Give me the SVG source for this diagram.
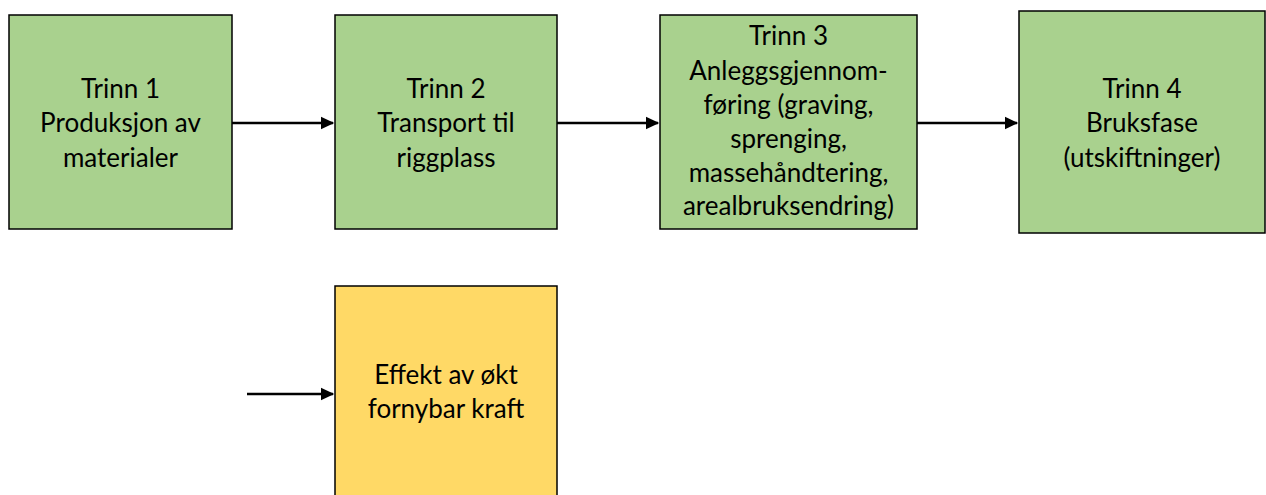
<svg xmlns="http://www.w3.org/2000/svg" width="1266" height="495" viewBox="0 0 1266 495">
<defs>
<style>
.g{fill:#A9D18E;stroke:#000;stroke-width:1.5}
.y{fill:#FFD966;stroke:#000;stroke-width:1.5}
text{font-family:Lato,"Open Sans",sans-serif;font-size:26px;fill:#000;text-anchor:middle}
.c{stroke:#000;stroke-width:2.5;fill:none;marker-end:url(#ah)}
</style>
<marker id="ah" markerWidth="6" markerHeight="6" refX="5" refY="3" orient="auto" markerUnits="strokeWidth"><path d="M0,0.4 L5.5,3 L0,5.6 Z" fill="#000"/></marker>
</defs>
<rect width="1266" height="495" fill="#fff"/>
<g id="connectors">
<line class="c" x1="232" y1="123" x2="333" y2="123"/>
<line class="c" x1="557" y1="123" x2="658" y2="123"/>
<line class="c" x1="917" y1="123" x2="1017" y2="123"/>
<line class="c" x1="247" y1="394" x2="333" y2="394"/>
</g>
<g id="n1"><rect class="g" x="9" y="15" width="223" height="214"/>
<text x="120.5" y="98">Trinn 1</text><text x="120.5" y="132">Produksjon av</text><text x="120.5" y="167">materialer</text></g>
<g id="n2"><rect class="g" x="335" y="15" width="222" height="214"/>
<text x="446" y="98">Trinn 2</text><text x="446" y="132">Transport til</text><text x="446" y="167">riggplass</text></g>
<g id="n3"><rect class="g" x="660" y="15" width="257" height="214"/>
<text x="788.5" y="45">Trinn 3</text><text x="788.5" y="80">Anleggsgjennom-</text><text x="788.5" y="114">føring (graving,</text><text x="788.5" y="148">sprenging,</text><text x="788.5" y="182">massehåndtering,</text><text x="788.5" y="215">arealbruksendring)</text></g>
<g id="n4"><rect class="g" x="1019" y="11" width="246" height="222"/>
<text x="1142" y="98">Trinn 4</text><text x="1142" y="132">Bruksfase</text><text x="1142" y="167">(utskiftninger)</text></g>
<g id="n5"><rect class="y" x="335" y="286" width="222" height="215"/>
<text x="446" y="384">Effekt av økt</text><text x="446" y="418">fornybar kraft</text></g>
</svg>
